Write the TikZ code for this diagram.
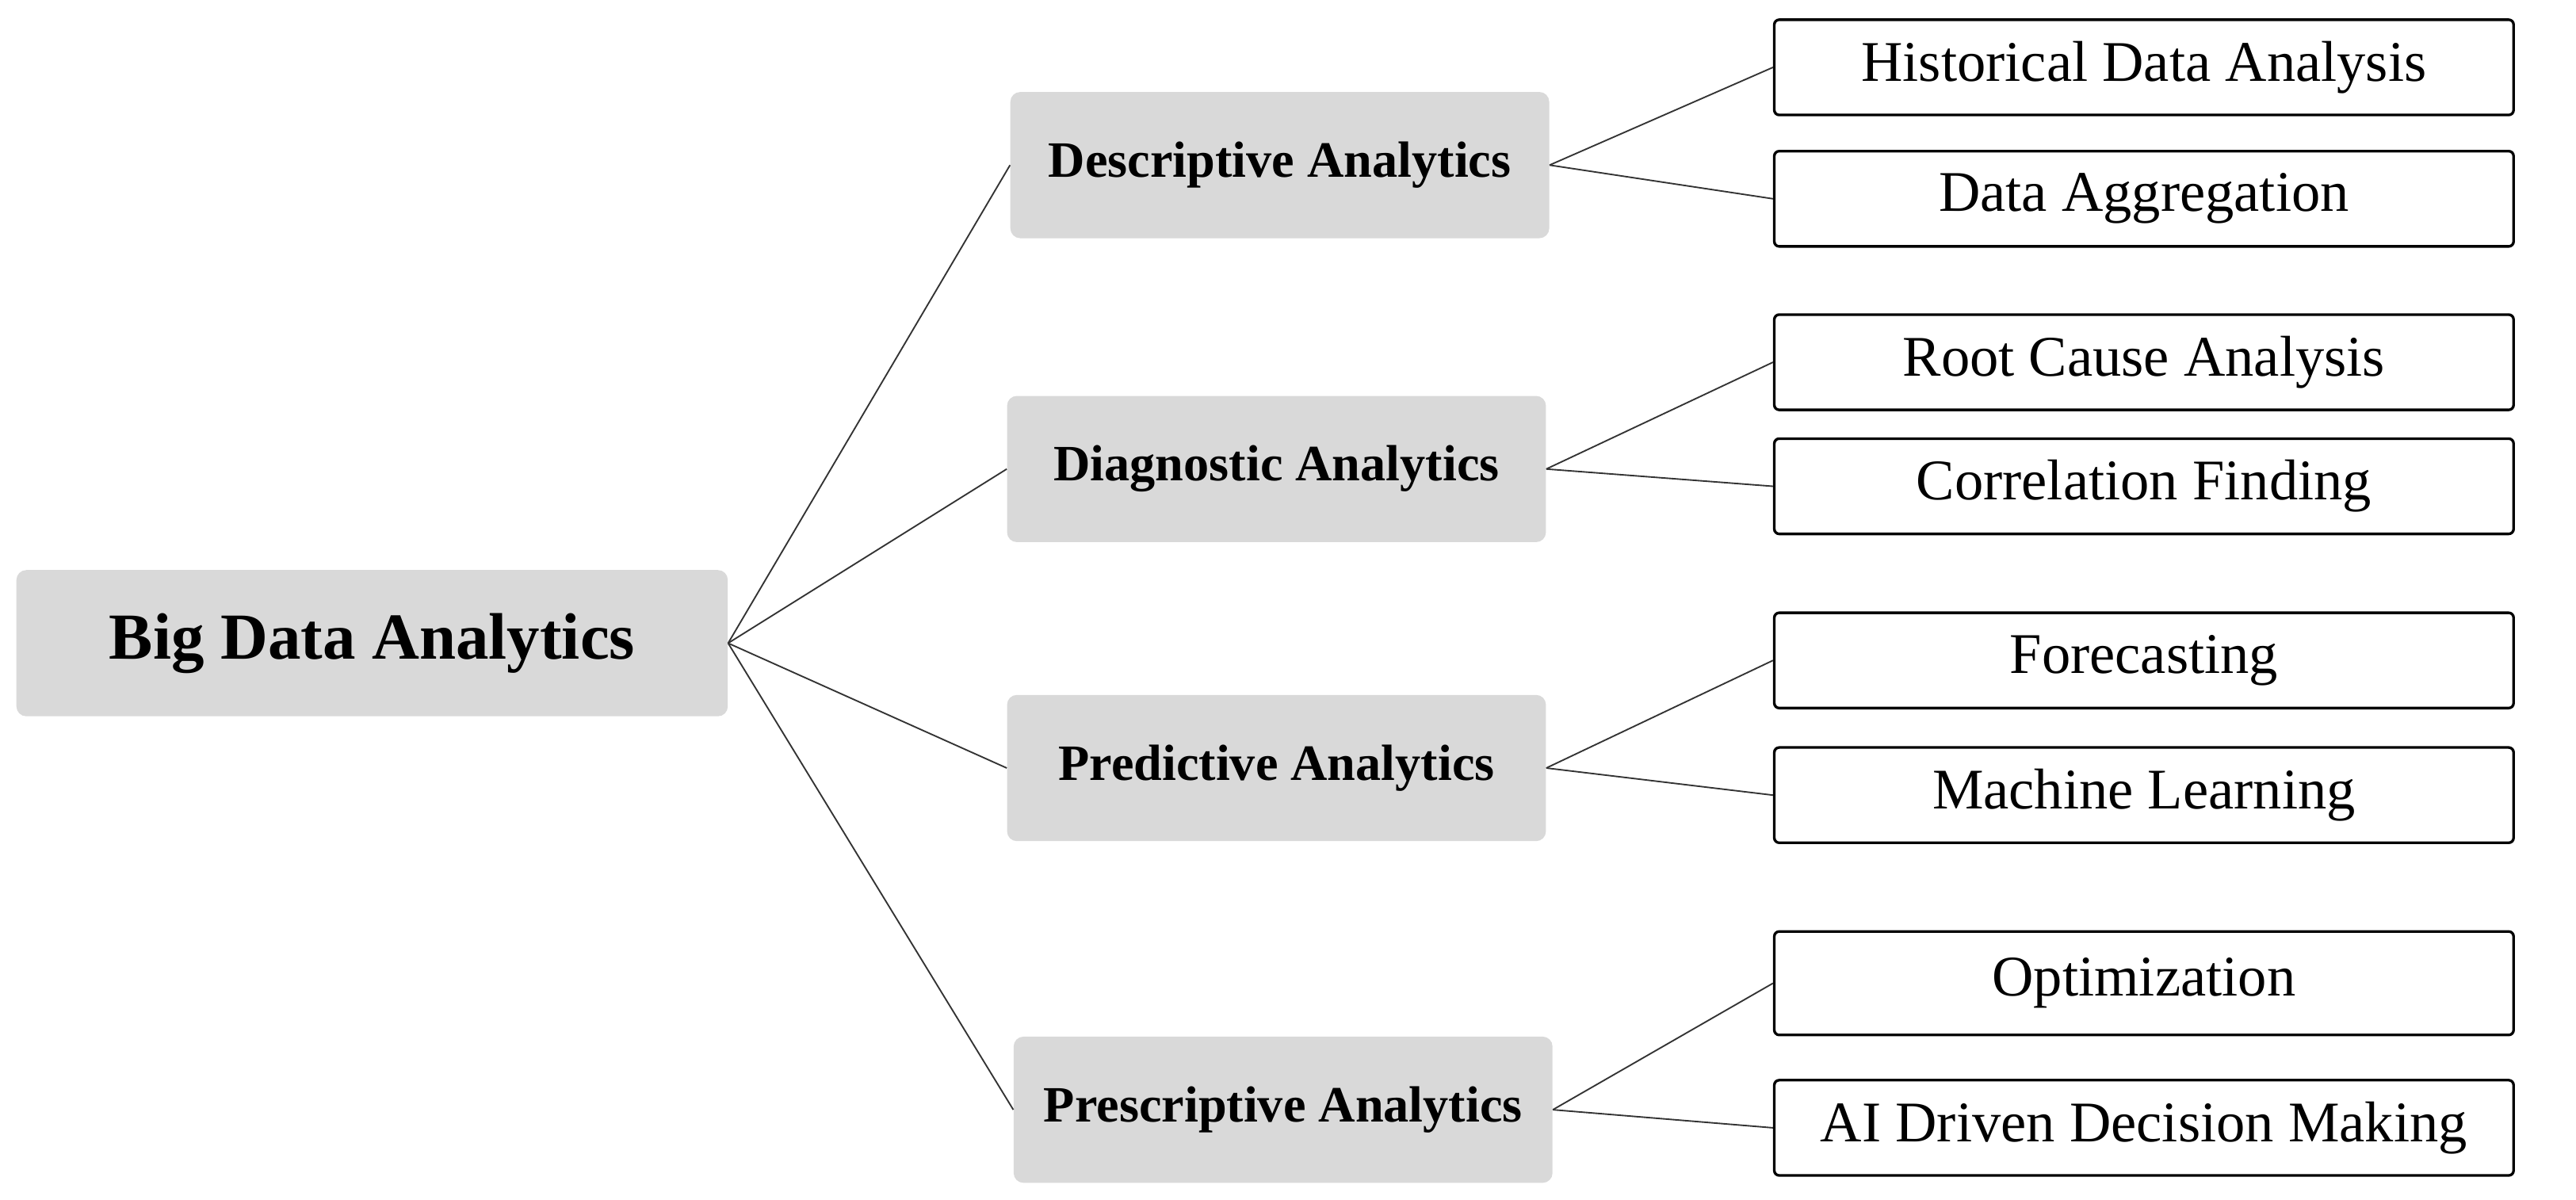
\documentclass[tikz,border=0pt]{standalone}
\usepackage{fontspec}
\setmainfont{Liberation Serif}
\begin{document}
\begin{tikzpicture}[x=1pt,y=-1pt,
  cat/.style={fill=black!15,rounded corners=6pt,minimum width=328pt,minimum height=89pt,font=\fontsize{31}{36}\selectfont\bfseries,inner sep=0pt},
  leaf/.style={draw,line width=1.6pt,rounded corners=3pt,minimum width=450pt,minimum height=58pt,font=\fontsize{35}{40}\selectfont,inner sep=0pt},
  ln/.style={line width=0.9pt,draw=black!80}]
\useasboundingbox (0,0) rectangle (1568,730);
\node[cat,minimum width=433pt,font=\fontsize{40}{46}\selectfont\bfseries] (root) at (226.5,391.5) {Big Data Analytics};
\node[cat] (d1) at (779,100.5) {Descriptive Analytics};
\node[cat] (d2) at (777,285.5) {Diagnostic Analytics};
\node[cat] (d3) at (777,467.5) {Predictive Analytics};
\node[cat] (d4) at (781,675.5) {Prescriptive Analytics};
\node[leaf] (l1) at (1305,41) {Historical Data Analysis};
\node[leaf] (l2) at (1305,121) {Data Aggregation};
\node[leaf] (l3) at (1305,220.5) {Root Cause Analysis};
\node[leaf] (l4) at (1305,296) {Correlation Finding};
\node[leaf] (l5) at (1305,402) {Forecasting};
\node[leaf] (l6) at (1305,484) {Machine Learning};
\node[leaf,minimum height=63pt] (l7) at (1305,598.5) {Optimization};
\node[leaf] (l8) at (1305,686.5) {AI Driven Decision Making};
\foreach \c in {d1,d2,d3,d4} \draw[ln] (root.east) -- (\c.west);
\draw[ln] (d1.east) -- (l1.west); \draw[ln] (d1.east) -- (l2.west);
\draw[ln] (d2.east) -- (l3.west); \draw[ln] (d2.east) -- (l4.west);
\draw[ln] (d3.east) -- (l5.west); \draw[ln] (d3.east) -- (l6.west);
\draw[ln] (d4.east) -- (l7.west); \draw[ln] (d4.east) -- (l8.west);
\end{tikzpicture}
\end{document}
